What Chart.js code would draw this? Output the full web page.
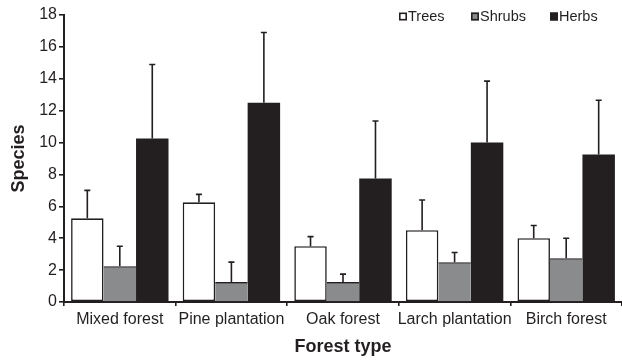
<!DOCTYPE html>
<html>
<head>
<meta charset="utf-8">
<script src="https://cdn.jsdelivr.net/npm/chart.js@4.4.1/dist/chart.umd.min.js"></script>
<style>
  html, body { margin: 0; padding: 0; background: #ffffff; }
  #wrap { width: 622px; height: 361px; position: relative; }
</style>
</head>
<body>
<div id="wrap"><canvas id="chart"></canvas></div>
<script>
// Species richness by forest type (mean with upper SD bar)
const forestTypes = ['Mixed forest', 'Pine plantation', 'Oak forest', 'Larch plantation', 'Birch forest'];
const seriesNames = ['Trees', 'Shrubs', 'Herbs'];
const trees      = [5.25, 6.25, 3.5, 4.5, 4.0];
const treesSD    = [1.75, 0.5, 0.6, 1.9, 0.8];
const shrubs     = [2.25, 1.25, 1.25, 2.5, 2.75];
const shrubsSD   = [1.25, 1.25, 0.5, 0.6, 1.25];
const herbs      = [10.25, 12.5, 7.75, 10.0, 9.25];
const herbsSD    = [4.65, 4.4, 3.6, 3.85, 3.4];
const yTicks     = [0, 2, 4, 6, 8, 10, 12, 14, 16, 18];

const INK = '#231f20';
const FONT = "Arial, 'Liberation Sans', Helvetica, sans-serif";

// Upper-only error bars with a short cap, drawn through the y scale
const errorBars = {
  id: 'errorBars',
  afterDatasetsDraw(chart) {
    const ctx = chart.ctx;
    const y = chart.scales.y;
    ctx.save();
    ctx.strokeStyle = INK;
    ctx.lineWidth = 1.6;
    chart.data.datasets.forEach((ds, di) => {
      const meta = chart.getDatasetMeta(di);
      meta.data.forEach((bar, i) => {
        const top = y.getPixelForValue(ds.data[i] + ds.sd[i]);
        ctx.beginPath();
        ctx.moveTo(bar.x, bar.y);
        ctx.lineTo(bar.x, top);
        ctx.moveTo(bar.x - 3, top);
        ctx.lineTo(bar.x + 3, top);
        ctx.stroke();
      });
    });
    ctx.restore();
  }
};

// Compact legend in the upper right of the plot
const insetLegend = {
  id: 'insetLegend',
  afterDraw(chart) {
    const ctx = chart.ctx;
    const starts = [399, 471, 550];
    const cy = 16.5;
    ctx.save();
    ctx.font = "14.5px " + FONT;
    ctx.textBaseline = 'middle';
    ctx.textAlign = 'left';
    chart.data.datasets.forEach((ds, i) => {
      const x = starts[i];
      ctx.fillStyle = ds.backgroundColor;
      ctx.fillRect(x, cy - 4, 8, 8);
      ctx.strokeStyle = INK;
      ctx.lineWidth = 1.6;
      ctx.strokeRect(x + 0.8, cy - 3.2, 6.4, 6.4);
      ctx.fillStyle = INK;
      ctx.fillText(ds.label, x + 9, cy);
    });
    ctx.restore();
  }
};

new Chart(document.getElementById('chart'), {
  type: 'bar',
  data: {
    labels: forestTypes,
    datasets: [
      { label: seriesNames[0], data: trees, sd: treesSD, backgroundColor: '#ffffff',
        borderColor: INK, borderWidth: 1.6, borderSkipped: false },
      { label: seriesNames[1], data: shrubs, sd: shrubsSD, backgroundColor: '#8a8b8d',
        borderColor: INK, borderWidth: { top: 1.6, left: 0, right: 0, bottom: 0 }, borderSkipped: false },
      { label: seriesNames[2], data: herbs, sd: herbsSD, backgroundColor: INK,
        borderColor: INK, borderWidth: 0 }
    ]
  },
  options: {
    responsive: true,
    maintainAspectRatio: false,
    animation: false,
    devicePixelRatio: 1,
    layout: { padding: { top: 15, right: 0, bottom: 0, left: 0 } },
    datasets: { bar: { categoryPercentage: 0.873, barPercentage: 1.0 } },
    plugins: {
      legend: { display: false },
      tooltip: { enabled: false }
    },
    scales: {
      x: {
        grid: { display: true, drawOnChartArea: false, drawTicks: true, tickLength: 4,
                offset: true, color: INK, lineWidth: 1.6 },
        border: { display: true, color: INK, width: 2 },
        ticks: { color: INK, font: { family: FONT, size: 16 }, padding: 3.5, maxRotation: 0, autoSkip: false },
        title: { display: true, text: 'Forest type', color: INK,
                 font: { family: FONT, size: 18, weight: 'bold' }, padding: { top: 0, bottom: 3 } },
        afterFit(scale) { scale.height = 59; }
      },
      y: {
        min: 0, max: 18,
        afterBuildTicks(scale) { scale.ticks = yTicks.map(v => ({ value: v })); },
        grid: { display: true, drawOnChartArea: false, drawTicks: true, tickLength: 5,
                color: INK, lineWidth: 1.6 },
        border: { display: true, color: INK, width: 2 },
        ticks: { color: INK, font: { family: FONT, size: 16 }, padding: 2 },
        title: { display: true, text: 'Species', color: INK,
                 font: { family: FONT, size: 18, weight: 'bold' }, padding: { top: 8, bottom: 0 } },
        afterFit(scale) { scale.width = 64; }
      }
    }
  },
  plugins: [errorBars, insetLegend]
});
</script>
</body>
</html>
